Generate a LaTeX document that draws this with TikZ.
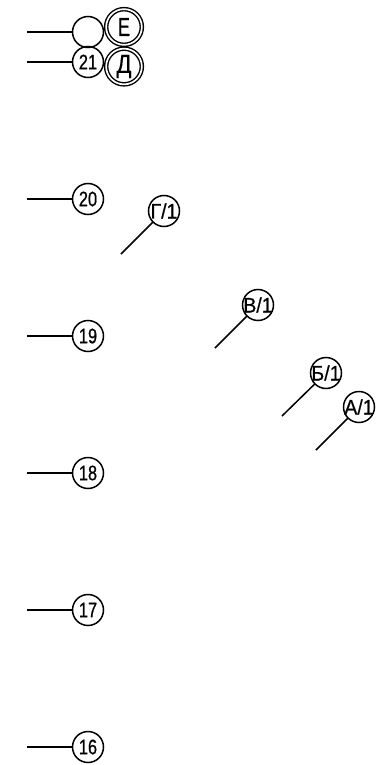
\documentclass[tikz,border=0pt]{standalone}
\usepackage{fontspec}
\setmainfont{Liberation Sans}
\newfontfamily\cadfont[FakeStretch=0.78,FakeBold=0.6]{Liberation Sans}
\newfontfamily\cadgrade[FakeStretch=0.93,FakeBold=0.6]{Liberation Sans}
\newfontfamily\cadbig[FakeStretch=0.7,FakeBold=0.5]{Liberation Sans}
\newfontfamily\cadwide[FakeStretch=0.85,FakeBold=0.5]{Liberation Sans}
\tikzset{
  x=1pt,y=-1pt,
  ln/.style={line width=1.5pt,black},
  mark0/.style={circle,draw,ln,minimum size=31pt,inner sep=0pt,outer sep=0pt,font=\cadfont\fontsize{21}{21}\selectfont},
  axisno/.style={mark0},
  grade/.style={mark0,font=\cadgrade\fontsize{21}{21}\selectfont},
  ringed/.style={circle,draw,line width=1.4pt,double,double distance=1.7pt,minimum size=35.7pt,inner sep=0pt,outer sep=2.1pt,font=\fontsize{26}{26}\selectfont},
}
\newcommand{\tx}[1]{\makebox[0pt][c]{#1}}
\begin{document}
\begin{tikzpicture}
\useasboundingbox (0,0) rectangle (383,765);
\node[ringed] (E) at (124,27) {\cadbig\tx{Е}};
\node[ringed] (D) at (124,66.5) {\cadwide\tx{Д}};
\node[axisno] (n0) at (88,32) {};
\node[axisno] (n21) at (88,62) {\tx{21}};
\node[axisno] (n20) at (88,199) {\tx{20}};
\node[axisno] (n19) at (88,336) {\tx{19}};
\node[axisno] (n18) at (88,473) {\tx{18}};
\node[axisno] (n17) at (88,610) {\tx{17}};
\node[axisno] (n16) at (88,747) {\tx{16}};
\foreach \n/\y in {n0/32,n21/62,n20/199,n19/336,n18/473,n17/610,n16/747}{
  \coordinate (s\n) at (27,\y);
  \draw[ln] (s\n) -- (\n);
}
\node[grade] (G) at (164,211) {\tx{Г/1}};
\node[grade] (V) at (258,305) {\tx{В/1}};
\node[grade] (B) at (326,373) {\tx{Б/1}};
\node[grade] (A) at (359,407) {\tx{А/1}};
\coordinate (eG) at (121,254);
\coordinate (eV) at (215,348);
\coordinate (eB) at (282,416);
\coordinate (eA) at (316,450);
\draw[ln] (eG) -- (G);
\draw[ln] (eV) -- (V);
\draw[ln] (eB) -- (B);
\draw[ln] (eA) -- (A);
\end{tikzpicture}
\end{document}
